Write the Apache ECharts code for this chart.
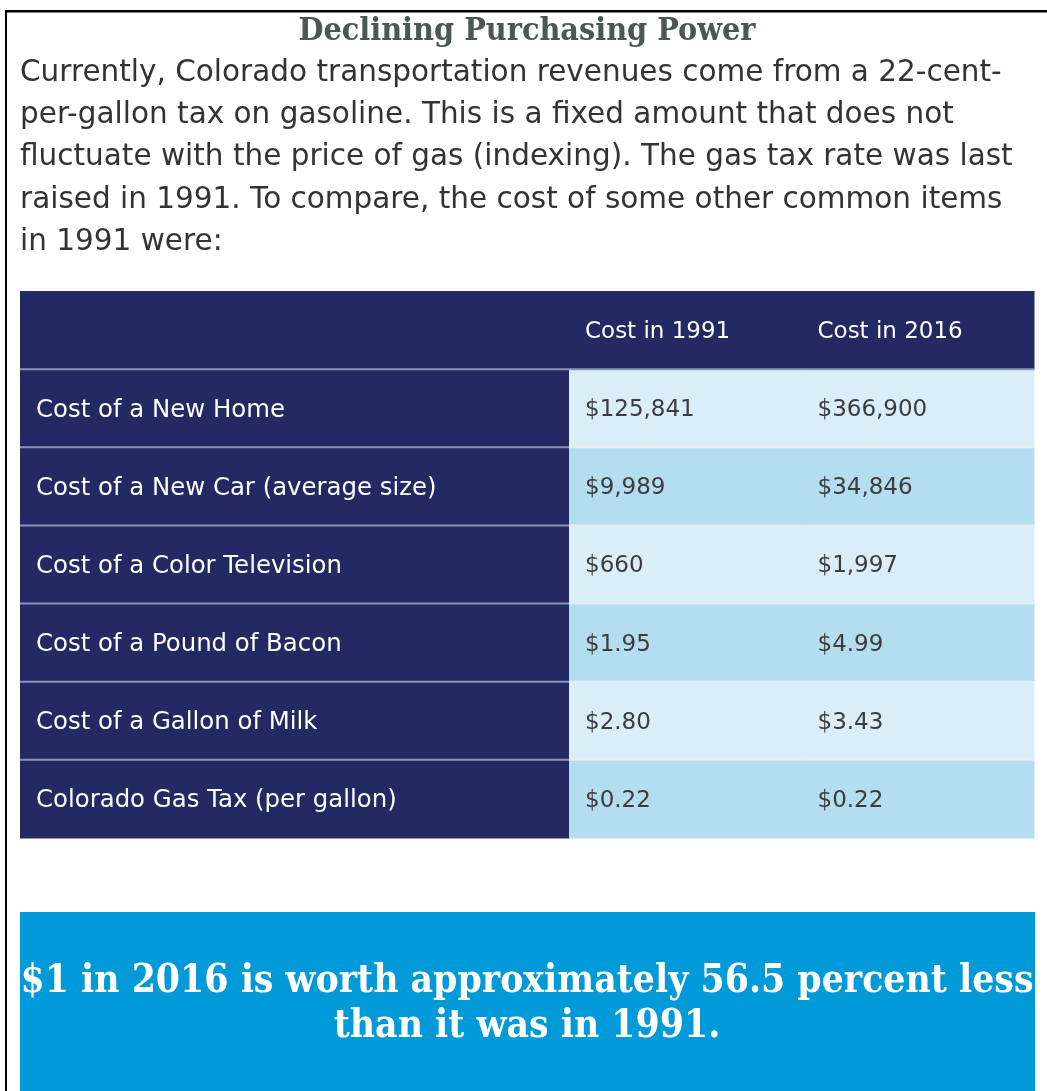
<!DOCTYPE html>
<html>
<head>
<meta charset="utf-8">
<title>Declining Purchasing Power</title>
<script src="https://cdn.jsdelivr.net/npm/echarts@6/dist/echarts.min.js"></script>
<style>
  html, body { margin: 0; padding: 0; background: #fff; }
  #main { width: 1047px; height: 1091px; }
</style>
</head>
<body>
<div id="main"></div>
<script>
// table data
const items = [
  "Cost of a New Home",
  "Cost of a New Car (average size)",
  "Cost of a Color Television",
  "Cost of a Pound of Bacon",
  "Cost of a Gallon of Milk",
  "Colorado Gas Tax (per gallon)"
];
const years = ["Cost in 1991", "Cost in 2016"];
const cost1991 = [125841, 9989, 660, 1.95, 2.80, 0.22];
const cost2016 = [366900, 34846, 1997, 4.99, 3.43, 0.22];

const titleText = "Declining Purchasing Power";
const introLines = [
  "Currently, Colorado transportation revenues come from a 22-cent-",
  "per-gallon tax on gasoline. This is a fixed amount that does not",
  "fluctuate with the price of gas (indexing). The gas tax rate was last",
  "raised in 1991. To compare, the cost of some other common items",
  "in 1991 were:"
];
const calloutLines = [
  "$1 in 2016 is worth approximately 56.5 percent less",
  "than it was in 1991."
];

const NAVY = "#232962";
const LIGHT = "#d9eef9";
const MID = "#b4ddef";
const SANS = "DejaVu Sans";
const SLAB = "DejaVu Serif Condensed";

function money(v) {
  if (v >= 100) return "$" + v.toLocaleString("en-US");
  return "$" + v.toFixed(2);
}

// rows: 0 = header, 1..n = items
const rowNames = [""].concat(items);

const labelData = rowNames.map((name, i) => [0, i, name]);
const valueData = [];
years.forEach((y, c) => valueData.push([c, 0, y]));
items.forEach((name, r) => {
  valueData.push([0, r + 1, money(cost1991[r])]);
  valueData.push([1, r + 1, money(cost2016[r])]);
});

function cellRenderer(isValue) {
  return function (params, api) {
    const col = api.value(0);
    const row = api.value(1);
    const text = api.value(2);
    const c = api.coord([col, row]);
    const s = api.size([1, 1]);
    const x = c[0] - s[0] / 2;
    const y = c[1] - s[1] / 2;
    let fill = NAVY;
    let color = "#fff";
    let size = isValue ? 23 : 24.4;
    if (isValue && row > 0) {
      fill = row % 2 === 1 ? LIGHT : MID;
      color = "#3c3c3c";
    }
    const children = [
      {
        type: "rect",
        shape: { x: x, y: y, width: s[0] + 0.5, height: s[1] + 0.5 },
        style: { fill: fill }
      },
      {
        type: "text",
        x: x + 16,
        y: c[1] + 2,
        style: {
          text: text,
          fill: color,
          font: size + "px '" + SANS + "'",
          textVerticalAlign: "middle",
          textAlign: "left"
        }
      }
    ];
    if (row > 0) {
      children.push({
        type: "line",
        shape: { x1: x, y1: y, x2: x + s[0], y2: y },
        style: {
          stroke: isValue && row > 1 ? "#e6eef3" : "#8f93b3",
          lineWidth: 2
        }
      });
    }
    return { type: "group", children: children };
  };
}

const chart = echarts.init(document.getElementById("main"));

const graphics = [
  // frame lines
  { type: "rect", shape: { x: 5, y: 10, width: 1042, height: 2.5 }, style: { fill: "#000" } },
  { type: "rect", shape: { x: 5, y: 10, width: 2, height: 1081 }, style: { fill: "#000" } },
  {
    type: "text", x: 527, y: 32,
    style: {
      text: titleText, fill: "#4b5753",
      font: "bold 32px '" + SLAB + "'",
      textAlign: "center", textVerticalAlign: "middle"
    }
  },
  // callout box
  { type: "rect", shape: { x: 20, y: 912, width: 1015, height: 179 }, style: { fill: "#009ad9" } }
];
introLines.forEach((line, i) => {
  graphics.push({
    type: "text", x: 20, y: 73 + i * 42.3,
    style: {
      text: line, fill: "#333",
      font: "29.5px '" + SANS + "'",
      textAlign: "left", textVerticalAlign: "middle"
    }
  });
});
calloutLines.forEach((line, i) => {
  graphics.push({
    type: "text", x: 527, y: 982 + i * 45,
    style: {
      text: line, fill: "#fff",
      font: "bold 38.7px '" + SLAB + "'",
      textAlign: "center", textVerticalAlign: "middle"
    }
  });
});

chart.setOption({
  animation: false,
  grid: [
    { left: 20, top: 291, width: 549, height: 547 },
    { left: 569, top: 291, width: 465, height: 547 }
  ],
  xAxis: [
    { gridIndex: 0, type: "category", data: ["Item"], show: false },
    { gridIndex: 1, type: "category", data: years, show: false }
  ],
  yAxis: [
    { gridIndex: 0, type: "category", data: rowNames, inverse: true, show: false },
    { gridIndex: 1, type: "category", data: rowNames, inverse: true, show: false }
  ],
  series: [
    {
      type: "custom", xAxisIndex: 0, yAxisIndex: 0,
      renderItem: cellRenderer(false), data: labelData
    },
    {
      type: "custom", xAxisIndex: 1, yAxisIndex: 1,
      renderItem: cellRenderer(true), data: valueData
    }
  ],
  graphic: graphics
});
</script>
</body>
</html>
